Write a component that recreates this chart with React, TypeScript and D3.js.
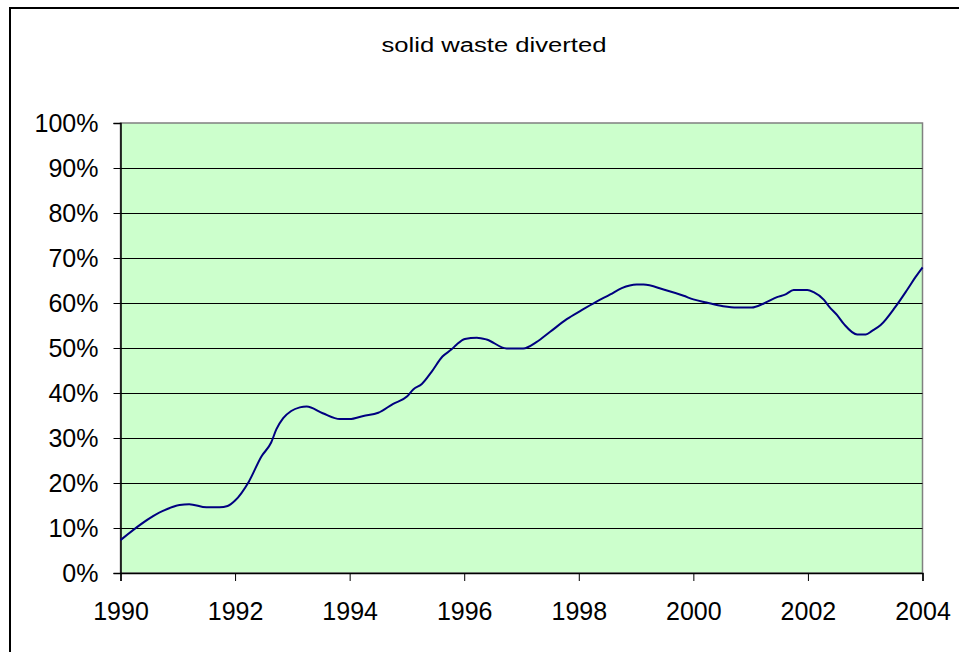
import React, { useEffect, useRef } from 'react';
import * as d3 from 'd3';

// share of solid waste diverted (year, fraction)
const years = [
  1990.0, 1990.74, 1991.03, 1991.2, 1991.5, 1991.73, 1991.87, 1992.0, 1992.24, 1992.46,
  1992.63, 1992.72, 1992.84, 1992.98, 1993.13, 1993.25, 1993.53, 1993.83, 1994.0, 1994.24,
  1994.5, 1994.76, 1995.0, 1995.11, 1995.26, 1995.43, 1995.62, 1995.78, 1995.87, 1996.01,
  1996.22, 1996.39, 1996.74, 1997.03, 1997.26, 1997.5, 1997.79, 1998.05, 1998.31, 1998.55,
  1998.75, 1999.01, 1999.13, 1999.48, 1999.83, 2000.0, 2000.23, 2000.52, 2000.76, 2001.02,
  2001.23, 2001.46, 2001.61, 2001.75, 2001.99, 2002.1, 2002.28, 2002.37, 2002.51, 2002.63,
  2002.86, 2003.01, 2003.12, 2003.27, 2003.53, 2003.73, 2003.88, 2004.0,
];
const diverted = [
  0.073, 0.138, 0.151, 0.153, 0.146, 0.146, 0.149, 0.161, 0.203, 0.259,
  0.29, 0.319, 0.344, 0.36, 0.368, 0.37, 0.355, 0.342, 0.342, 0.349,
  0.356, 0.376, 0.392, 0.408, 0.42, 0.447, 0.481, 0.497, 0.508, 0.52,
  0.523, 0.519, 0.499, 0.499, 0.513, 0.536, 0.564, 0.584, 0.603, 0.619,
  0.633, 0.641, 0.641, 0.63, 0.616, 0.608, 0.601, 0.593, 0.59, 0.59,
  0.599, 0.613, 0.619, 0.629, 0.629, 0.624, 0.607, 0.592, 0.573, 0.553,
  0.53, 0.53, 0.538, 0.551, 0.592, 0.629, 0.658, 0.679,
];
const xTicks = [1990, 1992, 1994, 1996, 1998, 2000, 2002, 2004];
const yTicks = [0, 0.1, 0.2, 0.3, 0.4, 0.5, 0.6, 0.7, 0.8, 0.9, 1.0];
const title = 'solid waste diverted';

export default function App() {
  const svgRef = useRef<SVGSVGElement>(null);

  useEffect(() => {
    if (!svgRef.current) return;
    drawChart();
  }, []);

  const drawChart = () => {
    const svg = d3.select(svgRef.current);
    svg.selectAll('*').remove();

    const font = 'Arial, "Liberation Sans", sans-serif';
    const left = 120.5;
    const right = 922.5;
    const top = 123;
    const bottom = 573;

    const x = d3.scaleLinear().domain([1990, 2004]).range([left, right]);
    const y = d3.scaleLinear().domain([0, 1]).range([bottom, top]);

    // outer chart frame (runs past the picture on right and bottom)
    svg.append('rect')
      .attr('x', 10)
      .attr('y', 8)
      .attr('width', 1000)
      .attr('height', 700)
      .attr('fill', '#fff')
      .attr('stroke', '#000')
      .attr('stroke-width', 2);

    // title
    svg.append('text')
      .attr('x', 494)
      .attr('y', 52)
      .attr('text-anchor', 'middle')
      .attr('textLength', 225)
      .attr('lengthAdjust', 'spacingAndGlyphs')
      .style('font-family', font)
      .style('font-size', '20px')
      .style('fill', '#000')
      .text(title);

    // plot area
    svg.append('rect')
      .attr('x', left)
      .attr('y', top)
      .attr('width', right - left)
      .attr('height', bottom - top)
      .attr('fill', '#CCFFCC')
      .attr('stroke', '#808080')
      .attr('stroke-width', 1.5);

    // gridlines
    svg.append('g')
      .selectAll('line')
      .data(yTicks.filter((t) => t > 0 && t < 1))
      .enter()
      .append('line')
      .attr('x1', left)
      .attr('x2', right)
      .attr('y1', (d) => Math.round(y(d)) + 0.5)
      .attr('y2', (d) => Math.round(y(d)) + 0.5)
      .attr('stroke', '#000')
      .attr('stroke-width', 1);

    // Y axis
    const yAxis = svg.append('g')
      .attr('transform', `translate(${left},0)`)
      .call(d3.axisLeft(y).tickValues(yTicks).tickSize(7).tickPadding(15).tickFormat(d3.format('.0%') as any));
    yAxis.select('.domain').attr('stroke', '#000').attr('stroke-width', 1.5);
    yAxis.selectAll('.tick line').attr('stroke', '#000');
    yAxis.selectAll('text')
      .attr('dy', '0.34em')
      .style('font-family', font)
      .style('font-size', '25px')
      .style('fill', '#000');

    // X axis
    const xAxis = svg.append('g')
      .attr('transform', `translate(0,${bottom})`)
      .call(d3.axisBottom(x).tickValues(xTicks).tickSize(8).tickPadding(21).tickFormat(d3.format('d') as any));
    xAxis.select('.domain').attr('stroke', '#000').attr('stroke-width', 1.5);
    xAxis.selectAll('.tick line').attr('stroke', '#000');
    xAxis.selectAll('text')
      .attr('dy', '0.71em')
      .style('font-family', font)
      .style('font-size', '25px')
      .style('fill', '#000');

    // line
    const data = years.map((yr, i) => ({ year: yr, value: diverted[i] }));
    const line = d3
      .line<any>()
      .x((d) => x(d.year))
      .y((d) => y(d.value))
      .curve(d3.curveMonotoneX);

    svg.append('path')
      .datum(data)
      .attr('fill', 'none')
      .attr('stroke', '#000080')
      .attr('stroke-width', 2)
      .attr('d', line);
  };

  return (
    <svg
      ref={svgRef}
      width={959}
      height={652}
      style={{ position: 'absolute', left: 0, top: 0, display: 'block' }}
    ></svg>
  );
}
